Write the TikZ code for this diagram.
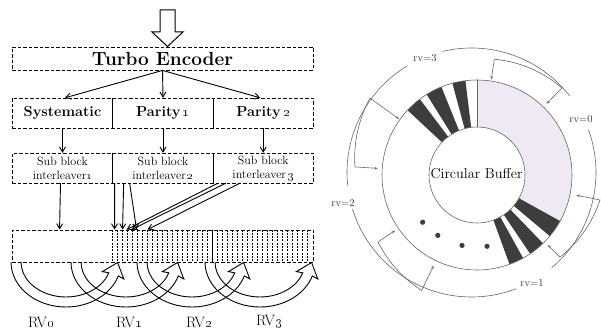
\documentclass[tikz,border=0pt]{standalone}
\usetikzlibrary{arrows.meta}
\definecolor{ringgrey}{HTML}{666666}
\definecolor{shadefill}{HTML}{EEE9F2}
\definecolor{wedgecol}{HTML}{3D3D3D}
\newcommand{\osn}[1]{\oldstylenums{#1}}
\newcommand{\rvbracket}[6]{%
  \draw[ptr] (#1:#3) -- (#1:#2) -- plot[domain=#1:#4, samples=30, variable=\tt] (\tt:{#2+(#5-(#2))*(\tt-(#1))/(#4-(#1))}) -- (#4:#6);}
\tikzset{
  dbox/.style={draw, dash pattern=on 3.5pt off 2pt, line width=0.9pt, inner sep=0pt},
  cell/.style={inner sep=0pt, minimum width=100.3pt, minimum height=30pt},
  arr/.style={-{Straight Barb[length=5pt,width=6pt]}, line width=0.9pt},
  thinline/.style={draw=ringgrey, line width=0.6pt},
  ptr/.style={ringgrey, line width=0.6pt, {Stealth[length=3.5pt,width=2.6pt]}-{Stealth[length=3.5pt,width=2.6pt]}},
  grid/.style={dash pattern=on 2pt off 1.3pt, line width=0.6pt},
  curv/.pic={\draw[line width=0.9pt] (-55,0) arc[start angle=180,end angle=18,x radius=55,y radius=45]
      -- (57.8,17.0) -- (51.6,0.5) -- (36.4,9.6) -- (42.8,10.8)
      arc[start angle=18,end angle=180,x radius=45,y radius=35];},
  rvlab/.style={font=\fontsize{10.5}{12}\selectfont, text=black!80, inner sep=1pt}
}
\begin{document}
\begin{tikzpicture}[x=1pt,y=-1pt]
\useasboundingbox (0,0) rectangle (601,334);
% ---------- left diagram ----------
\draw[line width=1pt, fill=white] (160,10) -- (175,10) -- (175,32) -- (183,32) -- (167.5,46.5) -- (152,32) -- (160,32) -- cycle;
\node[dbox, minimum width=301pt, minimum height=23pt, font=\bfseries\fontsize{19}{22}\selectfont] (te) at (162.5,58.5) {Turbo Encoder};

\node[dbox, minimum width=301pt, minimum height=30pt] (row2) at (162.5,113) {};
\node[cell, font=\bfseries\fontsize{14.5}{17}\selectfont] (sys) at (62.5,113) {Systematic};
\node[cell, font=\bfseries\fontsize{14.5}{17}\selectfont] (p1) at (163,113) {Parity\,\osn{1}};
\node[cell, font=\bfseries\fontsize{14.5}{17}\selectfont] (p2) at (263.2,113) {Parity\,\osn{2}};
\draw[line width=0.9pt] (sys.north east) -- (sys.south east);
\draw[line width=0.9pt] (p1.north east) -- (p1.south east);

\draw[arr] (te.south) -- ([xshift=2.5]sys.north);
\draw[arr] (te.south) -- (p1.north);
\draw[arr] (te.south) -- ([xshift=-3]p2.north);

\node[dbox, minimum width=301pt, minimum height=30pt] (row3) at (162.5,168) {};
\node[cell, align=center, font=\fontsize{12}{14}\selectfont] (sb1) at (62.5,168) {Sub block\\interleaver\osn{1}};
\node[cell, align=center, font=\fontsize{12}{14}\selectfont] (sb2) at (163,168) {Sub block\\interleaver\,\osn{2}};
\node[cell, align=center, font=\fontsize{12}{14}\selectfont] (sb3) at (263.2,168) {Sub block\\interleaver\,\osn{3}};
\draw[line width=0.9pt] (sb1.north east) -- (sb1.south east);
\draw[line width=0.9pt] (sb2.north east) -- (sb2.south east);

\draw[arr] (sys.south) -- (sb1.north);
\draw[arr] (p1.south) -- (sb2.north);
\draw[arr] (p2.south) -- (sb3.north);

% buffer
\node[dbox, minimum width=301pt, minimum height=32pt] (buf) at (162.5,246) {};
\foreach \i in {0,...,39}{
  \draw[grid] ([xshift={101+5*\i}]buf.north west) -- ([xshift={101+5*\i}]buf.south west);
}
\draw[line width=1.3pt] ([xshift=201]buf.north west) -- ([xshift=201]buf.south west);

\coordinate (b0) at ([xshift=48]buf.north west);
\coordinate (b1) at ([xshift=103]buf.north west);
\coordinate (b2) at ([xshift=111]buf.north west);
\coordinate (b3) at ([xshift=115]buf.north west);
\coordinate (b4) at ([xshift=120]buf.north west);
\coordinate (b5) at ([xshift=125]buf.north west);
\coordinate (b6) at ([xshift=136]buf.north west);
\draw[arr] ([xshift=-2]sb1.south) -- (b0);
\draw[arr] ([xshift=2]sb2.south west) -- (b1);
\draw[arr] ([xshift=11]sb2.south west) -- (b2);
\draw[arr] ([xshift=17]sb2.south west) -- (b5);
\draw[arr] ([xshift=5]sb3.south west) -- (b3);
\draw[arr] ([xshift=13]sb3.south west) -- (b4);
\draw[arr] ([xshift=27]sb3.south west) -- (b6);

% curved hollow arrows
\pic at (66,262) {curv};
\pic at (126,262) {curv};
\pic at (192,262) {curv};
\pic at (260,262) {curv};

\node[font=\fontsize{15}{17}\selectfont] (rv0) at (41,322) {RV\osn{0}};
\node[font=\fontsize{15}{17}\selectfont] (rv1) at (129,322) {RV\osn{1}};
\node[font=\fontsize{15}{17}\selectfont] (rv2) at (199,322) {RV\osn{2}};
\node[font=\fontsize{15}{17}\selectfont] (rv3) at (269,322) {RV\osn{3}};

% ---------- right diagram ----------
\begin{scope}[shift={(477,175)}, yscale=-1]
  \fill[shadefill] (-29:48) arc[start angle=-29,end angle=90,radius=48] -- (90:95) arc[start angle=90,end angle=-29,radius=95] -- cycle;
  \foreach \a/\b in {97/105,112/122,127/137,-40/-29,-56/-46,-70/-61}
    \fill[wedgecol] (\a:48) arc[start angle=\a,end angle=\b,radius=48] -- (\b:95) arc[start angle=\b,end angle=\a,radius=95] -- cycle;
  \draw[thinline] (0,0) circle[radius=48];
  \draw[thinline] (0,0) circle[radius=95];
  \draw[thinline] (90:48) -- (90:95);
  \foreach \a in {-82,-102,-123,-139}
    \fill[wedgecol] (\a:72) circle[radius=2.6];
  \begin{scope}[shift={(-5.5,2.5)}]
    \draw[thinline] (121:124.5) arc[start angle=121,end angle=186,radius=124.5];
    \draw[thinline] (197:124.5) arc[start angle=197,end angle=291,radius=124.5];
    \draw[thinline] (-50:124.5) arc[start angle=-50,end angle=20,radius=124.5];
    \draw[thinline] (38:124.5) arc[start angle=38,end angle=103.5,radius=124.5];
  \end{scope}
  \rvbracket{45.7}{121.6}{99.5}{81.5}{117}{96.5}
  \rvbracket{-44.7}{116.7}{99.5}{-11.5}{125.5}{101.5}
  \rvbracket{214.1}{119.5}{99}{244.4}{128}{100.5}
  \rvbracket{144.3}{131.8}{96}{176.2}{122.3}{99.5}
\end{scope}
\node[font=\fontsize{14.3}{16}\selectfont, inner sep=0pt] (cb) at (476.5,173.5) {Circular Buffer};
\node[rvlab] (l3) at (425,58) {rv=3};
\node[rvlab] (l0) at (581,119) {rv=0};
\node[rvlab] (l1) at (532,283) {rv=1};
\node[rvlab] (l2) at (343,203) {rv=2};
\end{tikzpicture}
\end{document}
